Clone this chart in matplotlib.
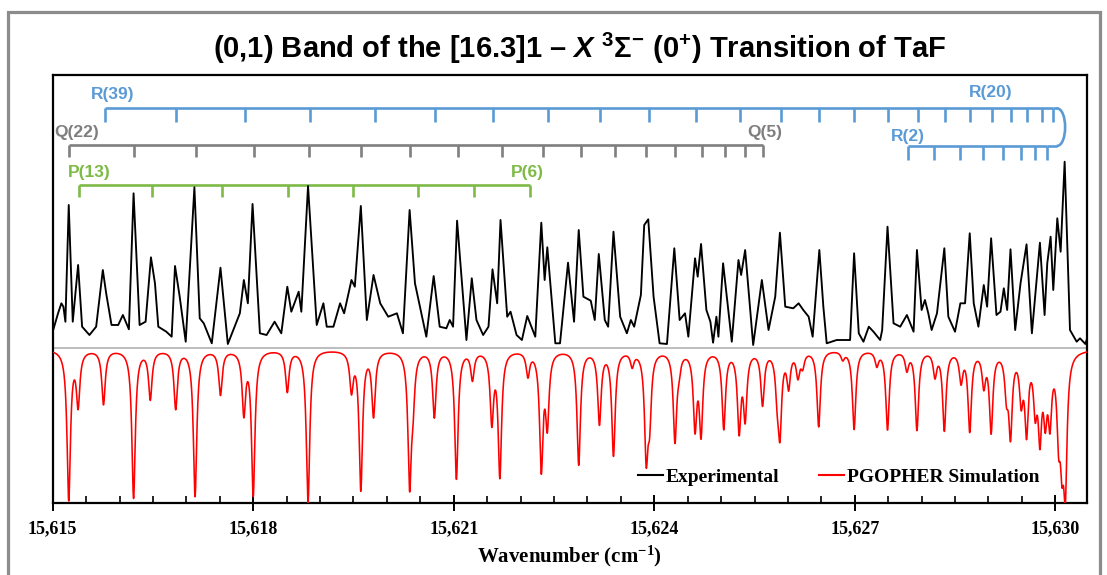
import numpy as np
import matplotlib
matplotlib.use("Agg")
import matplotlib.pyplot as plt
from matplotlib import font_manager as fm
from matplotlib.lines import Line2D
from matplotlib.patches import PathPatch, Rectangle
from matplotlib.path import Path
from matplotlib.ticker import MultipleLocator, FuncFormatter

# ---------------- data ----------------
# Experimental trace (wavenumber, intensity in arbitrary units)
exp_x = [15615.00, 15615.08, 15615.13, 15615.16, 15615.19, 15615.24, 15615.30, 15615.38, 15615.44, 15615.55,
         15615.65, 15615.75, 15615.80, 15615.88, 15615.98, 15616.05, 15616.14, 15616.21, 15616.30, 15616.39,
         15616.47, 15616.53, 15616.58, 15616.70, 15616.78, 15616.83, 15616.90, 15616.99, 15617.12, 15617.20,
         15617.26, 15617.38, 15617.51, 15617.62, 15617.80, 15617.86, 15617.92, 15617.99, 15618.10, 15618.20,
         15618.32, 15618.42, 15618.51, 15618.57, 15618.68, 15618.72, 15618.82, 15618.95, 15619.05, 15619.10,
         15619.20, 15619.30, 15619.36, 15619.47, 15619.52, 15619.61, 15619.70, 15619.80, 15619.90, 15620.02,
         15620.15, 15620.24, 15620.34, 15620.42, 15620.59, 15620.70, 15620.79, 15620.89, 15620.94, 15620.99,
         15621.05, 15621.19, 15621.27, 15621.34, 15621.44, 15621.52, 15621.58, 15621.65, 15621.70, 15621.80,
         15621.85, 15621.94, 15622.02, 15622.10, 15622.22, 15622.31, 15622.36, 15622.40, 15622.52, 15622.59,
         15622.71, 15622.80, 15622.87, 15622.94, 15623.05, 15623.11, 15623.17, 15623.26, 15623.31, 15623.39,
         15623.49, 15623.59, 15623.65, 15623.70, 15623.80, 15623.85, 15623.91, 15623.99, 15624.08, 15624.19,
         15624.30, 15624.38, 15624.46, 15624.51, 15624.61, 15624.65, 15624.70, 15624.78, 15624.84, 15624.88,
         15624.93, 15624.96, 15625.03, 15625.16, 15625.26, 15625.30, 15625.36, 15625.48, 15625.61, 15625.71,
         15625.81, 15625.88, 15625.96, 15626.08, 15626.16, 15626.23, 15626.31, 15626.37, 15626.47, 15626.53,
         15626.58, 15626.73, 15626.93, 15626.99, 15627.06, 15627.13, 15627.21, 15627.28, 15627.38, 15627.41,
         15627.49, 15627.58, 15627.68, 15627.78, 15627.88, 15627.93, 15628.00, 15628.05, 15628.10, 15628.15,
         15628.23, 15628.34, 15628.40, 15628.50, 15628.58, 15628.65, 15628.72, 15628.78, 15628.85, 15628.93,
         15628.98, 15629.04, 15629.12, 15629.18, 15629.23, 15629.28, 15629.33, 15629.40, 15629.48, 15629.57,
         15629.65, 15629.73, 15629.77, 15629.84, 15629.88, 15629.93, 15629.97, 15630.03, 15630.08, 15630.14,
         15630.22, 15630.32, 15630.37, 15630.45, 15630.50]
exp_y = [15.8, 34.2, 44.2, 40.8, 25.8, 142.5, 25.8, 82.5, 20.8, 12.5,
         20.8, 77.5, 54.2, 22.5, 22.5, 32.5, 18.2, 154.2, 22.5, 25.8,
         90.2, 64.2, 20.8, 15.8, 10.8, 81.5, 50.8, 5.8, 160.2, 29.2,
         24.2, 4.2, 79.8, 3.5, 34.2, 67.5, 44.2, 143.5, 14.2, 12.5,
         25.8, 14.2, 60.8, 35.8, 55.8, 35.8, 161.5, 22.5, 44.2, 20.8,
         20.8, 44.2, 34.2, 67.5, 60.8, 141.5, 27.5, 72.5, 44.2, 30.8,
         34.2, 14.2, 137.5, 64.2, 10.8, 71.5, 20.8, 19.2, 27.5, 20.8,
         126.8, 7.5, 69.2, 27.5, 12.5, 20.8, 78.2, 44.2, 127.5, 30.8,
         35.8, 12.5, 7.5, 31.5, 10.8, 124.8, 67.5, 100.2, 4.2, 4.2,
         84.8, 25.8, 117.5, 50.8, 46.8, 27.5, 93.5, 27.5, 20.8, 115.8,
         30.8, 14.2, 27.5, 20.8, 52.5, 122.5, 128.2, 50.8, 4.2, 3.5,
         99.2, 27.5, 34.2, 10.8, 89.2, 70.8, 103.5, 37.5, 25.8, 4.8,
         30.8, 10.8, 84.2, 5.8, 87.5, 72.5, 97.5, 2.5, 67.5, 17.5,
         50.8, 114.8, 40.8, 39.2, 44.2, 37.5, 30.8, 10.8, 97.5, 40.8,
         4.2, 7.5, 7.5, 94.2, 14.2, 5.8, 20.8, 15.8, 7.5, 17.5,
         120.8, 24.2, 20.8, 32.5, 15.8, 97.5, 37.5, 47.5, 34.2, 17.5,
         34.2, 99.2, 30.8, 15.8, 44.2, 44.2, 114.2, 44.2, 20.8, 62.5,
         40.8, 109.2, 32.5, 35.8, 59.2, 37.5, 98.2, 17.5, 64.2, 103.2,
         14.2, 74.2, 104.8, 32.5, 84.2, 110.8, 57.5, 129.2, 95.8, 185.8,
         17.5, 5.8, 9.2, 3.5, 14.2]

# PGOPHER simulation line list (position, intensity)
sim_pos = [15615.24, 15615.38, 15615.76, 15616.21, 15616.46, 15616.84, 15617.13, 15617.51, 15617.86, 15618.00,
           15618.51, 15618.82, 15619.47, 15619.61, 15619.80, 15620.34, 15620.39, 15620.71, 15621.04, 15621.28,
           15621.57, 15621.69, 15622.11, 15622.31, 15622.40, 15622.87, 15623.18, 15623.39, 15623.67, 15623.88,
           15623.93, 15624.31, 15624.37, 15624.61, 15624.70, 15625.04, 15625.27, 15625.36, 15625.62, 15625.84,
           15625.88, 15626.01, 15626.15, 15626.22, 15626.46, 15626.82, 15626.99, 15627.33, 15627.49, 15627.78,
           15627.93, 15628.20, 15628.34, 15628.59, 15628.72, 15628.93, 15629.04, 15629.27, 15629.33, 15629.49,
           15629.57, 15629.70, 15629.77, 15629.85, 15629.92, 15630.05, 15630.10, 15630.15]
sim_int = [149, 53, 54, 148, 48, 58, 146, 44, 61, 144,
           41, 153, 38, 138, 64, 130, 40, 66, 128, 28,
           69, 124, 24, 116, 70, 114, 72, 104, 14, 100,
           60, 89, 12, 74, 80, 77, 77, 64, 53, 35,
           76, 34, 24, 14, 76, 8, 79, 14, 79, 18,
           79, 24, 79, 29, 79, 32, 79, 37, 79, 44,
           76, 50, 77, 56, 62, 70, 80, 125]

# Line assignments
r_upper = [15615.78, 15616.85, 15617.87, 15618.85, 15619.82, 15620.72, 15621.59, 15622.41, 15623.19, 15623.92,
           15624.62, 15625.28, 15625.90, 15626.47, 15626.99, 15627.49, 15627.95, 15628.35, 15628.73, 15629.06,
           15629.34, 15629.58, 15629.80, 15629.97]
r_lower = [15627.79, 15628.19, 15628.58, 15628.92, 15629.22, 15629.48, 15629.70, 15629.88]
q_branch = [15615.25, 15616.22, 15617.14, 15618.01, 15618.83, 15619.62, 15620.35, 15621.07, 15621.72, 15622.34,
            15622.90, 15623.41, 15623.87, 15624.31, 15624.71, 15625.06, 15625.36, 15625.62]
p_branch = [15615.40, 15616.49, 15617.53, 15618.52, 15619.50, 15620.46, 15621.31, 15622.14]

x_ticks = [15615, 15618, 15621, 15624, 15627, 15630]

# ---------------- fonts ----------------
sans = "Liberation Sans"
serif = "Liberation Serif"

plt.rcParams['mathtext.fontset'] = 'custom'
plt.rcParams['mathtext.rm'] = sans + ':bold'
plt.rcParams['mathtext.it'] = sans + ':italic:bold'
plt.rcParams['mathtext.bf'] = sans + ':bold'

BLUE = '#5B9BD5'
GRAY = '#7F7F7F'
GREEN = '#7DBA46'

fig = plt.figure(figsize=(11.07, 5.75), dpi=100)
ax = fig.add_axes([52.7 / 1107, 1 - 503 / 575, (1086.7 - 52.7) / 1107, (503 - 74.5) / 575])

# outer border
fig.patches.append(Rectangle((7.5 / 1107, -0.05), (1100 - 7.5) / 1107, 1.05 - 11.5 / 575,
                             transform=fig.transFigure, fill=False, edgecolor='#8c8c8c', lw=2.3))

# baseline
ax.axhline(0, color='#b8b8b8', lw=1.3, zorder=1)

# experimental
ax.plot(exp_x, exp_y, color='black', lw=1.35, zorder=3, solid_joinstyle='round')

# simulation
xs = np.linspace(15614.9, 15630.6, 6000)
g = 0.031
sim = np.zeros_like(xs)
for p, a in zip(sim_pos, sim_int):
    sim += a * g ** 2 / ((xs - p) ** 2 + g ** 2)
ax.plot(xs, -1.5 - sim, color='#ff0000', lw=1.15, zorder=3)

# ---------------- assignment ladders ----------------
lw_l = 1.9
def ladder(ticks, y, h, color):
    ax.hlines(y, min(ticks), max(ticks), color=color, lw=lw_l, capstyle='butt')
    ax.vlines(ticks, y - h, y, color=color, lw=lw_l)

yRu, yRl, yQ, yP = 239.2, 201.5, 202.5, 162.5
ladder(r_upper, yRu, 13.4, BLUE)
ax.hlines(yRu, max(r_upper), 15630.02, color=BLUE, lw=lw_l)
ladder(r_lower, yRl, 14, BLUE)
ax.hlines(yRl, max(r_lower), 15630.02, color=BLUE, lw=lw_l)
verts = [(15630.02, yRu), (15630.19, yRu), (15630.19, yRl), (15630.02, yRl)]
ax.add_patch(PathPatch(Path(verts, [Path.MOVETO, Path.CURVE4, Path.CURVE4, Path.CURVE4]),
                       fill=False, edgecolor=BLUE, lw=lw_l))
ladder(q_branch, yQ, 11.7, GRAY)
ladder(p_branch, yP, 11.7, GREEN)

lab_kw = dict(fontsize=12.5, fontweight='bold', family=sans, va='center', ha='center')
ax.text(15615.90, 252.5, 'R(39)', color=BLUE, **lab_kw)
ax.text(15629.03, 254.5, 'R(20)', color=BLUE, **lab_kw)
ax.text(15627.80, 210.5, 'R(2)', color=BLUE, **lab_kw)
ax.text(15615.36, 215.5, 'Q(22)', color=GRAY, **lab_kw)
ax.text(15625.66, 214.5, 'Q(5)', color=GRAY, **lab_kw)
ax.text(15615.54, 175.5, 'P(13)', color=GREEN, **lab_kw)
ax.text(15622.10, 175.5, 'P(6)', color=GREEN, **lab_kw)

# ---------------- axes ----------------
ax.set_xlim(15615.0, 15630.47)
ax.set_ylim(347.5 - 503, 347.5 - 74.5)
ax.set_yticks([])
ax.set_xticks(x_ticks)
ax.xaxis.set_minor_locator(MultipleLocator(0.5))
ax.xaxis.set_major_formatter(FuncFormatter(lambda v, p: f'{v:,.0f}'))
ax.tick_params(axis='x', which='major', direction='inout', length=11, width=1.4, pad=7)
ax.tick_params(axis='x', which='minor', direction='in', length=5, width=1.2)
for lab in ax.get_xticklabels():
    lab.set_fontfamily(serif)
    lab.set_fontweight('bold')
    lab.set_fontsize(13)
for s in ax.spines.values():
    s.set_linewidth(1.6)

ax.set_xlabel('Wavenumber (cm$^{\\mathregular{-1}}$)', fontsize=15, fontweight='bold', family=serif, labelpad=4)

fig.text(0.524, 1 - 48 / 575,
         r'(0,1) Band of the [16.3]1 – $\mathit{X}$ $^{3}\Sigma^{-}$ (0$^{+}$) Transition of TaF',
         ha='center', va='center', fontsize=21, fontweight='bold', family=sans)

handles = [Line2D([], [], color='black', lw=1.5), Line2D([], [], color='#ff0000', lw=1.5)]
leg = ax.legend(handles, ['Experimental', 'PGOPHER Simulation'], ncol=2, loc='center left',
                bbox_to_anchor=(0.566, 0.061), frameon=False, handlelength=1.3, handletextpad=0.15,
                columnspacing=2.0, borderpad=0, borderaxespad=0,
                prop=fm.FontProperties(family=serif, weight='bold', size=14))

fig.savefig('out.png', dpi=100)
